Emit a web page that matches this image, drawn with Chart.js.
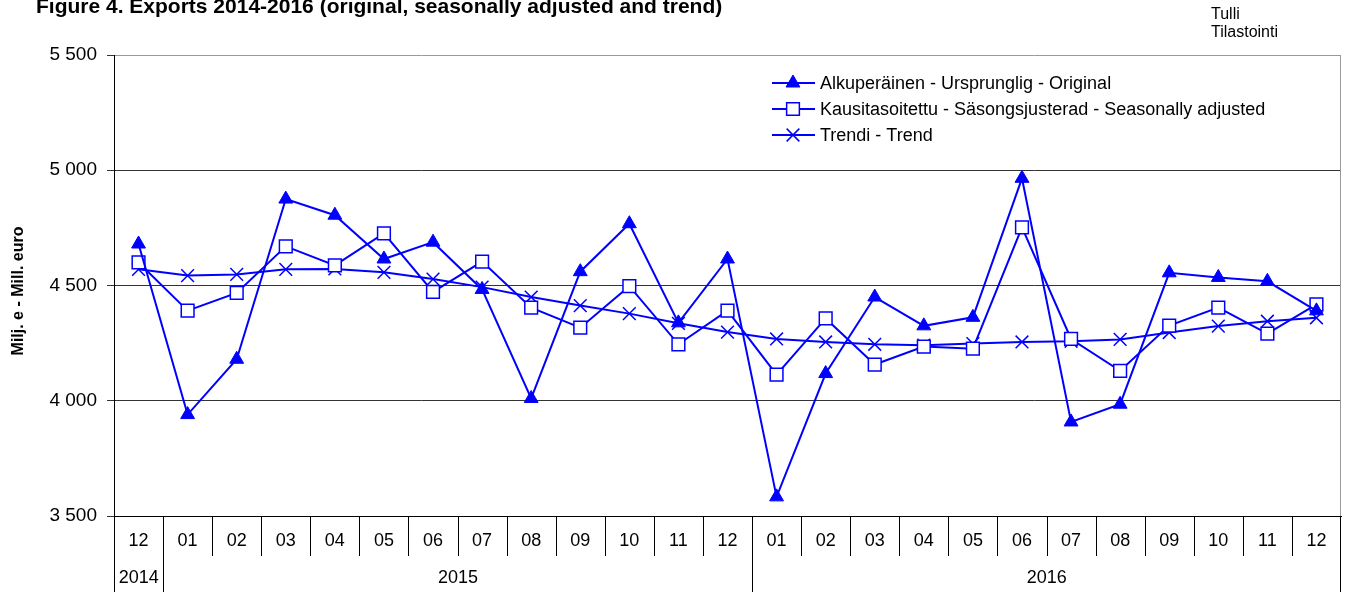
<!DOCTYPE html>
<html>
<head>
<meta charset="utf-8">
<script src="https://cdn.jsdelivr.net/npm/chart.js@4/dist/chart.umd.min.js"></script>
<style>
  body { margin: 0; background: #fff; }
  canvas { display: block; }
</style>
</head>
<body>
<canvas id="exportsChart" width="1346" height="592"></canvas>
<script>
// Month labels, Dec 2014 .. Dec 2016
const months = ['12', '01', '02', '03', '04', '05', '06', '07', '08', '09', '10', '11', '12',
                '01', '02', '03', '04', '05', '06', '07', '08', '09', '10', '11', '12'];
// Year row below the months (label + number of months it covers)
const yearLabels = ['2014', '2015', '2016'];
const yearSpans = [1, 12, 12];

const seriesNames = [
  'Alkuperäinen - Ursprunglig - Original',
  'Kausitasoitettu - Säsongsjusterad - Seasonally adjusted',
  'Trendi - Trend'
];

// Exports, million euro
const original = [4680, 3940, 4180, 4875, 4805, 4615, 4688, 4483, 4010, 4560, 4768, 4338, 4615,
                  3583, 4118, 4450, 4325, 4362, 4965, 3908, 3985, 4555, 4535, 4518, 4390];
const seasonal = [4600, 4391, 4468, 4670, 4587, 4726, 4472, 4604, 4404, 4317, 4497, 4245, 4391,
                  4113, 4357, 4157, 4235, 4226, 4752, 4268, 4130, 4326, 4404, 4291, 4418];
const trend    = [4570, 4543, 4548, 4570, 4572, 4557, 4528, 4493, 4450, 4413, 4378, 4336, 4298,
                  4268, 4255, 4245, 4241, 4248, 4255, 4258, 4266, 4296, 4324, 4345, 4360];

const yTicks = { min: 3500, max: 5500, step: 500 };

const FONT = "'Liberation Sans', Arial, sans-serif";
const BLUE = '#0000ff';

// Thousands with a space: 5 500
function fmt(v) {
  return String(v).replace(/\B(?=(\d{3})+(?!\d))/g, ' ');
}

// Draws title, source text, y title, custom legend and the two-row x axis
const decorations = {
  id: 'decorations',
  afterDraw(chart) {
    const { ctx, chartArea: a, scales: { x } } = chart;
    ctx.save();
    ctx.fillStyle = '#000';
    ctx.textBaseline = 'alphabetic';

    // title (top is cut off in the original)
    ctx.font = 'bold 21px ' + FONT;
    ctx.textAlign = 'left';
    ctx.fillText('Figure 4. Exports 2014-2016 (original, seasonally adjusted and trend)', 36, 13);

    ctx.font = '16px ' + FONT;
    ctx.fillText('Tulli', 1211, 19);
    ctx.fillText('Tilastointi', 1211, 37);

    // y axis title
    ctx.save();
    ctx.translate(23, 291);
    ctx.rotate(-Math.PI / 2);
    ctx.font = 'bold 16px ' + FONT;
    ctx.textAlign = 'center';
    ctx.fillText('Milj. e - Mill. euro', 0, 0);
    ctx.restore();

    // legend
    const styles = chart.data.datasets;
    ctx.font = '18px ' + FONT;
    ctx.textAlign = 'left';
    ctx.textBaseline = 'middle';
    [83, 109, 135].forEach((ly, i) => {
      const ds = styles[i];
      ctx.strokeStyle = BLUE;
      ctx.lineWidth = 2;
      ctx.beginPath();
      ctx.moveTo(772, ly);
      ctx.lineTo(815, ly);
      ctx.stroke();
      ctx.fillStyle = ds.pointBackgroundColor;
      ctx.lineWidth = ds.pointBorderWidth;
      Chart.helpers.drawPoint(ctx, {
        pointStyle: ds.pointStyle, radius: ds.pointRadius,
        borderWidth: ds.pointBorderWidth, rotation: 0
      }, 793, ly);
      ctx.fillStyle = '#000';
      ctx.fillText(seriesNames[i], 820, ly + 1);
    });

    // frame: right border, axis lines running down through the label rows
    ctx.lineWidth = 1;
    ctx.strokeStyle = '#999';
    ctx.beginPath();
    ctx.moveTo(a.right - 0.5, a.top);
    ctx.lineTo(a.right - 0.5, a.bottom);
    ctx.stroke();
    ctx.strokeStyle = '#000';
    ctx.beginPath();
    ctx.moveTo(a.left + 0.5, a.bottom);
    ctx.lineTo(a.left + 0.5, 592);
    ctx.moveTo(a.right - 0.5, a.bottom);
    ctx.lineTo(a.right - 0.5, 592);
    ctx.stroke();

    // month row
    const monthBottom = 556;
    const edge = i => Math.round((x.getPixelForValue(i - 1) + x.getPixelForValue(i)) / 2) + 0.5;
    ctx.font = '18px ' + FONT;
    ctx.textAlign = 'center';
    ctx.fillStyle = '#000';
    months.forEach((m, i) => {
      ctx.fillText(m, x.getPixelForValue(i), 541);
      if (i > 0) {
        ctx.beginPath();
        ctx.moveTo(edge(i), a.bottom);
        ctx.lineTo(edge(i), monthBottom);
        ctx.stroke();
      }
    });

    // year row
    let start = 0;
    yearLabels.forEach((yl, j) => {
      const end = start + yearSpans[j];
      const left = start === 0 ? a.left : edge(start);
      const right = end >= months.length ? a.right : edge(end);
      ctx.fillText(yl, (left + right) / 2, 578);
      if (end < months.length) {
        ctx.beginPath();
        ctx.moveTo(right, monthBottom);
        ctx.lineTo(right, 592);
        ctx.stroke();
      }
      start = end;
    });

    ctx.restore();
  }
};

const ctx = document.getElementById('exportsChart').getContext('2d');
new Chart(ctx, {
  type: 'line',
  data: {
    labels: months,
    datasets: [
      {
        label: seriesNames[0], data: original,
        borderColor: BLUE, borderWidth: 2, backgroundColor: BLUE,
        pointStyle: 'triangle', pointRadius: 8, pointBorderWidth: 1,
        pointBackgroundColor: BLUE, pointBorderColor: BLUE
      },
      {
        label: seriesNames[1], data: seasonal,
        borderColor: BLUE, borderWidth: 2, backgroundColor: '#fff',
        pointStyle: 'rect', pointRadius: 9, pointBorderWidth: 1.5,
        pointBackgroundColor: '#fff', pointBorderColor: BLUE
      },
      {
        label: seriesNames[2], data: trend,
        borderColor: BLUE, borderWidth: 2, backgroundColor: BLUE,
        pointStyle: 'crossRot', pointRadius: 9, pointBorderWidth: 1.5,
        pointBackgroundColor: BLUE, pointBorderColor: BLUE
      }
    ]
  },
  options: {
    responsive: false,
    animation: false,
    layout: { autoPadding: false, padding: { top: 55, right: 5, left: 0, bottom: 0 } },
    plugins: {
      legend: { display: false },
      tooltip: { enabled: false }
    },
    scales: {
      x: {
        type: 'category',
        offset: true,
        grid: { display: false },
        ticks: { display: false },
        border: { display: true, color: '#000', width: 1 },
        afterFit(scale) { scale.height = 76; }
      },
      y: {
        min: yTicks.min,
        max: yTicks.max,
        ticks: {
          stepSize: yTicks.step,
          color: '#000',
          padding: 10,
          font: { family: FONT, size: 19 },
          callback: v => fmt(v)
        },
        grid: {
          color: c => (c.tick && c.tick.value === yTicks.max) ? '#999' : '#333',
          tickColor: '#333',
          tickLength: 7
        },
        border: { display: true, color: '#000', width: 1 },
        afterFit(scale) { scale.width = 114; }
      }
    }
  },
  plugins: [decorations]
});
</script>
</body>
</html>
